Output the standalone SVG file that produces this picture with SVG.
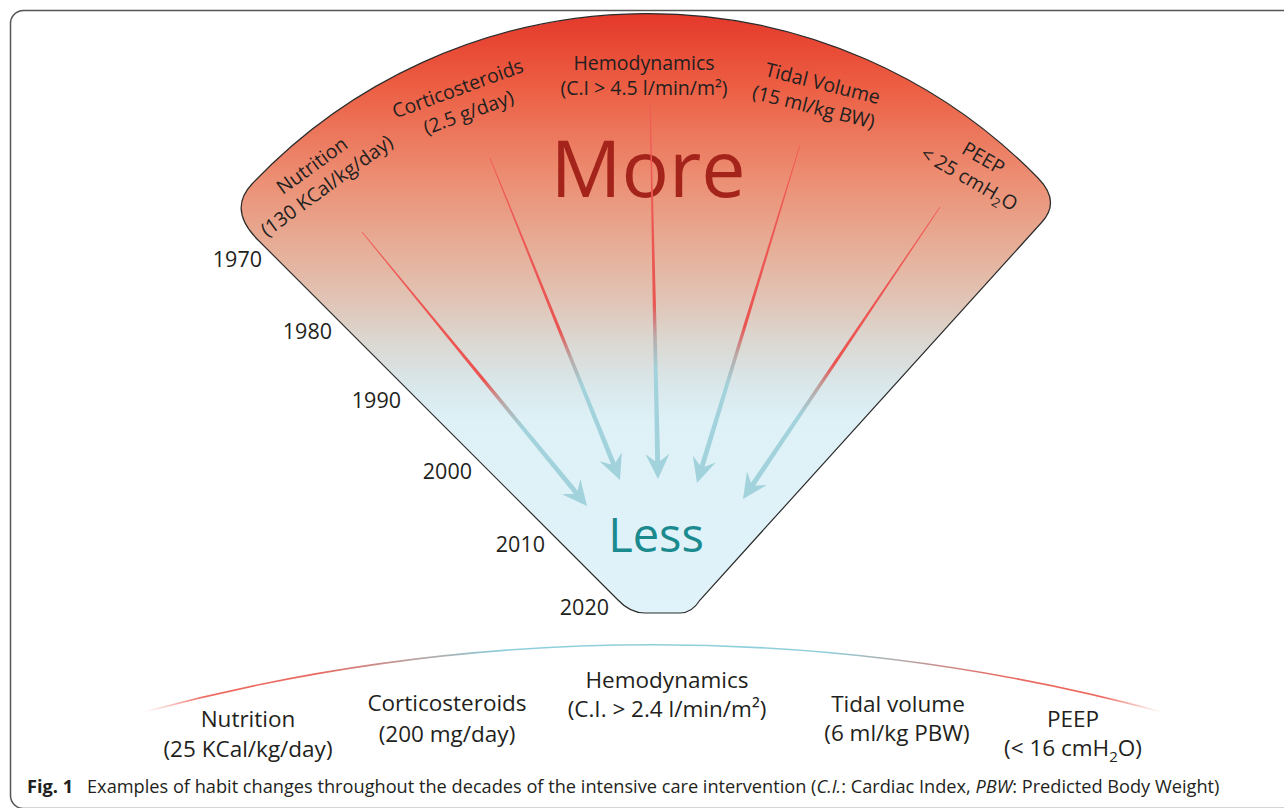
<svg xmlns="http://www.w3.org/2000/svg" xmlns:xlink="http://www.w3.org/1999/xlink" width="1284" height="808" viewBox="0 0 1284 808">
<defs>
<style>
text{font-family:"Open Sans","Liberation Sans",sans-serif;fill:#231f20}
.fl{font-size:19.5px;text-anchor:middle}
.bl{font-size:22.5px;text-anchor:middle}
.yr{font-size:21.5px;text-anchor:end}
.cap{font-size:18.2px}
.shaft{fill:url(#shaftGrad)}
.head{fill:#a2d2db}
</style>
<linearGradient id="fanGrad" gradientUnits="userSpaceOnUse" x1="0" y1="12" x2="0" y2="613">
<stop offset="0" stop-color="#e4382a"/>
<stop offset="0.12" stop-color="#ec5d42"/>
<stop offset="0.28" stop-color="#ec8f74"/>
<stop offset="0.4" stop-color="#e6b09a"/>
<stop offset="0.49" stop-color="#e0c7ba"/>
<stop offset="0.55" stop-color="#dbd8d2"/>
<stop offset="0.62" stop-color="#d9e7ea"/>
<stop offset="0.68" stop-color="#ddf1f7"/>
<stop offset="1" stop-color="#e0f3fa"/>
</linearGradient>
<linearGradient id="shaftGrad" x1="0" y1="0" x2="0" y2="1">
<stop offset="0" stop-color="#f05a55"/>
<stop offset="0.56" stop-color="#ea5552"/>
<stop offset="0.65" stop-color="#b9aaa8"/>
<stop offset="0.74" stop-color="#a2d2db"/>
<stop offset="1" stop-color="#a2d2db"/>
</linearGradient>
<linearGradient id="arcGrad" gradientUnits="userSpaceOnUse" x1="144" y1="0" x2="1162" y2="0">
<stop offset="0" stop-color="#f07a70" stop-opacity="0"/>
<stop offset="0.06" stop-color="#ef6a60"/>
<stop offset="0.17" stop-color="#e86a62"/>
<stop offset="0.27" stop-color="#b7a4a2"/>
<stop offset="0.35" stop-color="#8fcfdc"/>
<stop offset="0.67" stop-color="#8fcfdc"/>
<stop offset="0.75" stop-color="#b7a4a2"/>
<stop offset="0.84" stop-color="#e86a62"/>
<stop offset="0.94" stop-color="#ef6a60"/>
<stop offset="1" stop-color="#f07a70" stop-opacity="0"/>
</linearGradient>
<path id="ah" d="M0,0 L-25,-12 L-16,0 L-25,12 Z"/>
</defs>

<rect id="frame" x="10.5" y="10.5" width="1300" height="798" rx="13" fill="none" stroke="#555" stroke-width="1.5"/>

<g id="fan">
<path d="M258,240 Q227.6,209.6 252,184 A545,545 0 0 1 1038,178 Q1060.8,201.3 1042,222 L700,600 Q692,613 680,613 L645,613 Q630,613 618,600 Z" fill="url(#fanGrad)" stroke="#2b2b2b" stroke-width="1.2"/>
<text x="648" y="197" font-size="79" style="fill:#a4231b;text-anchor:middle">More</text>
<text x="656" y="552" font-size="47" style="fill:#1b8a8f;text-anchor:middle">Less</text>
</g>

<g id="connectors">
<g id="arrow-nutrition"><polygon class="shaft" points="361.7,232.3 575.6,496 579.4,492.8 362.3,231.7"/><use xlink:href="#ah" href="#ah" class="head" transform="translate(587,506) rotate(50.6)"/></g>
<g id="arrow-cortico"><polygon class="shaft" points="489.6,158.2 612.1,467 616.7,465.2 490.4,157.9"/><use xlink:href="#ah" href="#ah" class="head" transform="translate(620,480) rotate(68)"/></g>
<g id="arrow-hemo"><polygon class="shaft" points="649.6,100 655.2,464.1 660.2,463.9 650.4,100"/><use xlink:href="#ah" href="#ah" class="head" transform="translate(658,479) rotate(88.8)"/></g>
<g id="arrow-tidal"><polygon class="shaft" points="799.6,144.9 699,467.9 703.8,469.3 800.4,145.1"/><use xlink:href="#ah" href="#ah" class="head" transform="translate(697,483) rotate(107)"/></g>
<g id="arrow-peep"><polygon class="shaft" points="939.7,206.8 749.3,485.2 753.5,488 940.3,207.2"/><use xlink:href="#ah" href="#ah" class="head" transform="translate(743,499) rotate(124)"/></g>
</g>

<g id="label-nutrition-old" transform="translate(316,171) rotate(-36)">
<text class="fl" x="0" y="0">Nutrition</text>
<text class="fl" x="0" y="25">(130 KCal/kg/day)</text>
</g>
<g id="label-cortico-old" transform="translate(460,95) rotate(-20)">
<text class="fl" x="0" y="0">Corticosteroids</text>
<text class="fl" x="2" y="26">(2.5 g/day)</text>
</g>
<g id="label-hemo-old">
<text class="fl" x="644" y="69.5">Hemodynamics</text>
<text class="fl" x="644" y="95">(C.I &gt; 4.5 l/min/m²)</text>
</g>
<g id="label-tidal-old" transform="translate(821,90) rotate(14)">
<text class="fl" x="0" y="0">Tidal Volume</text>
<text class="fl" x="-3" y="25">(15 ml/kg BW)</text>
</g>
<g id="label-peep-old" transform="translate(980,164) rotate(30)">
<text class="fl" x="0" y="0">PEEP</text>
<text class="fl" x="-2" y="25">&lt; 25 cmH<tspan font-size="13" dy="5">2</tspan><tspan dy="-5">O</tspan></text>
</g>

<g id="years">
<text class="yr" x="262" y="267">1970</text>
<text class="yr" x="332" y="339">1980</text>
<text class="yr" x="401" y="408">1990</text>
<text class="yr" x="472" y="479">2000</text>
<text class="yr" x="545" y="552">2010</text>
<text class="yr" x="609" y="615">2020</text>
</g>

<g id="today-arc">
<path d="M144,712 A1959,1959 0 0 1 1162,712" fill="none" stroke="url(#arcGrad)" stroke-width="1.6"/>
</g>

<g id="label-nutrition-new">
<text class="bl" x="248" y="727">Nutrition</text>
<text class="bl" x="248" y="757">(25 KCal/kg/day)</text>
</g>
<g id="label-cortico-new">
<text class="bl" x="447" y="711">Corticosteroids</text>
<text class="bl" x="447" y="742">(200 mg/day)</text>
</g>
<g id="label-hemo-new">
<text class="bl" x="667" y="688">Hemodynamics</text>
<text class="bl" x="667" y="717">(C.I. &gt; 2.4 l/min/m²)</text>
</g>
<g id="label-tidal-new">
<text class="bl" x="898" y="712">Tidal volume</text>
<text class="bl" x="897" y="741">(6 ml/kg PBW)</text>
</g>
<g id="label-peep-new">
<text class="bl" x="1073" y="727">PEEP</text>
<text class="bl" x="1073" y="756">(&lt; 16 cmH<tspan font-size="15" dy="6">2</tspan><tspan dy="-6">O)</tspan></text>
</g>

<g id="caption">
<text class="cap" x="27" y="793"><tspan font-weight="bold">Fig. 1</tspan><tspan x="87">Examples of habit changes throughout the decades of the intensive care intervention (</tspan><tspan font-style="italic">C.I.</tspan><tspan>: Cardiac Index, </tspan><tspan font-style="italic">PBW</tspan><tspan>: Predicted Body Weight)</tspan></text>
</g>
</svg>
